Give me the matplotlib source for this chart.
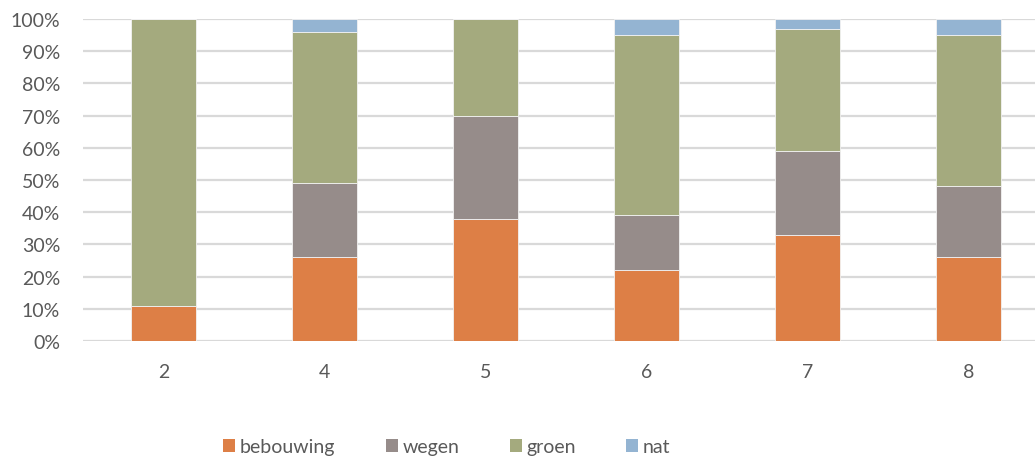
import matplotlib
matplotlib.use("Agg")
import matplotlib.pyplot as plt
import numpy as np
from matplotlib.ticker import FuncFormatter, MultipleLocator

categories = ["2", "4", "5", "6", "7", "8"]
bebouwing = [11, 26, 38, 22, 33, 26]
wegen = [0, 23, 32, 17, 26, 22]
groen = [89, 47, 30, 56, 38, 47]
nat = [0, 4, 0, 5, 3, 5]

series = [
    ("bebouwing", bebouwing, "#DD7F46"),
    ("wegen", wegen, "#968C8A"),
    ("groen", groen, "#A4AA7E"),
    ("nat", nat, "#94B4D2"),
]

plt.rcParams["font.family"] = ["Lato", "DejaVu Sans"]

W, H = 1035, 460
fig = plt.figure(figsize=(W / 100, H / 100), dpi=100)
ax = fig.add_axes([83 / W, 1 - 342 / H, (W - 83) / W, (342 - 20) / H])

x = np.arange(len(categories))
bottom = np.zeros(len(categories))
handles = []
for name, vals, col in series:
    vals = np.array(vals, dtype=float)
    b = ax.bar(x, vals, width=0.4, bottom=bottom, color=col, label=name,
               edgecolor="#F2F2F2", linewidth=0.6, zorder=3)
    handles.append(b)
    bottom += vals

ax.set_xlim(-0.5, -0.5 + (W - 83) / 161)
ax.set_ylim(0, 100)
ax.yaxis.set_major_locator(MultipleLocator(10))
ax.yaxis.set_major_formatter(FuncFormatter(lambda v, p: f"{int(v)}%"))
ax.set_xticks(x)
ax.set_xticklabels(categories)

ax.grid(axis="y", color="#D9D9D9", linewidth=1.6, zorder=0)
for s in ax.spines.values():
    s.set_visible(False)
ax.tick_params(axis="both", length=0, labelsize=14, labelcolor="#595959")
ax.tick_params(axis="y", pad=16.5)
ax.tick_params(axis="x", pad=16)

leg = fig.legend(handles=handles, labels=[s[0] for s in series],
                 loc="center", bbox_to_anchor=(447 / W, 1 - 448 / H),
                 ncol=4, frameon=False, fontsize=14,
                 handlelength=0.6, handleheight=0.6, handletextpad=0.25,
                 columnspacing=2.6, labelcolor="#595959")
for h in leg.legend_handles:
    h.set_edgecolor("none")

fig.savefig("out.png", dpi=100)
